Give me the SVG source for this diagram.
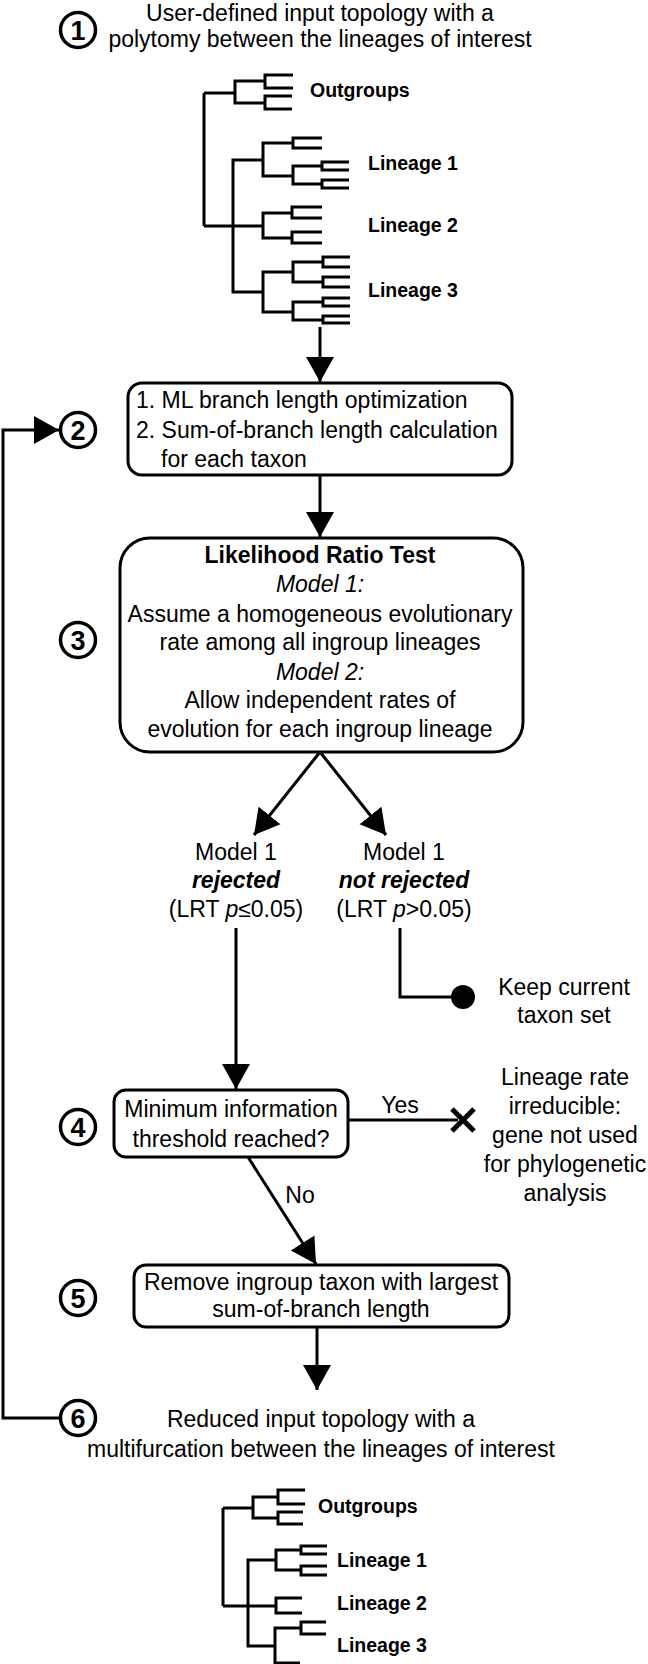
<svg xmlns="http://www.w3.org/2000/svg" width="648" height="1664" viewBox="0 0 648 1664">
<style>
text{font-family:"Liberation Sans",Arial,sans-serif;font-size:23px;fill:#000}
.c{text-anchor:middle}
.b{font-weight:bold}
.i{font-style:italic}
.lbl{font-weight:bold;font-size:19.5px}
.num{font-weight:bold;font-size:27px;text-anchor:middle}
.box{fill:#fff;stroke:#000;stroke-width:3}
.ring{fill:#fff;stroke:#000;stroke-width:3.5}
.ln{fill:none;stroke:#000;stroke-width:3}
.tree{fill:none;stroke:#000;stroke-width:3;stroke-linejoin:miter}
</style>
<defs>
<marker id="ah" markerUnits="userSpaceOnUse" markerWidth="26" markerHeight="30" refX="25" refY="14" orient="auto" viewBox="0 0 26 28">
<path d="M0 0L25 14L0 28z" fill="#000"/>
</marker>
</defs>
<rect width="648" height="1664" fill="#fff"/>

<g id="connectors">
<path class="ln" d="M320 327V382" marker-end="url(#ah)"/>
<path class="ln" d="M320 475V537" marker-end="url(#ah)"/>
<path class="ln" d="M320 752L254 835" marker-end="url(#ah)"/>
<path class="ln" d="M320 752L386 835" marker-end="url(#ah)"/>
<path class="ln" d="M236 928V1089" marker-end="url(#ah)"/>
<path class="ln" d="M400 928V997H455"/>
<path class="ln" d="M348 1120H458"/>
<path class="ln" d="M248 1157L316 1264" marker-end="url(#ah)"/>
<path class="ln" d="M317 1327V1390" marker-end="url(#ah)"/>
<path class="ln" d="M61 1418H3V430H59" marker-end="url(#ah)"/>
<text class="c" x="400" y="1113">Yes</text>
<text class="c" x="300" y="1203">No</text>
</g>

<g id="step1">
<circle class="ring" cx="78" cy="30" r="17.5"/>
<text class="num" x="78" y="40">1</text>
<text class="c" x="320" y="21">User-defined input topology with a</text>
<text class="c" x="320" y="47">polytomy between the lineages of interest</text>
</g>

<g id="tree1">
<path class="tree" d="M204 93V226M204 93H235M265 81H235V103H265M293 75H265V88H293M292 96H265V109H292"/>
<path class="tree" d="M204 226H263M263 160H233V292H263M293 143H263V176H293M322 138H293V148H322M322 166H293V184H322M349 162H322V170H349M349 180H322V188H349"/>
<path class="tree" d="M292 213H263V238H292M322 207H292V218H322M322 232H292V243H322"/>
<path class="tree" d="M293 272H263V312H293M323 262H293V282H323M350 257H323V267H350M350 277H323V287H350M323 302H293V320H323M350 298H323V306H350M350 316H323V323H350"/>
<text class="lbl" x="310" y="97">Outgroups</text>
<text class="lbl" x="368" y="170">Lineage 1</text>
<text class="lbl" x="368" y="232">Lineage 2</text>
<text class="lbl" x="368" y="297">Lineage 3</text>
</g>

<g id="step2">
<circle class="ring" cx="78" cy="430" r="17.5"/>
<text class="num" x="78" y="440">2</text>
<rect class="box" x="128" y="383" width="384" height="92" rx="14"/>
<text x="136" y="408">1. ML branch length optimization</text>
<text x="136" y="438">2. Sum-of-branch length calculation</text>
<text x="161" y="467">for each taxon</text>
</g>

<g id="step3">
<circle class="ring" cx="78" cy="640" r="17.5"/>
<text class="num" x="78" y="650">3</text>
<rect class="box" x="120" y="538" width="403" height="214" rx="30"/>
<text class="c b" x="320" y="563">Likelihood Ratio Test</text>
<text class="c i" x="320" y="592">Model 1:</text>
<text class="c" x="320" y="622">Assume a homogeneous evolutionary</text>
<text class="c" x="320" y="650">rate among all ingroup lineages</text>
<text class="c i" x="320" y="680">Model 2:</text>
<text class="c" x="320" y="708">Allow independent rates of</text>
<text class="c" x="320" y="737">evolution for each ingroup lineage</text>
</g>

<g id="rejected">
<text class="c" x="236" y="860">Model 1</text>
<text class="c b i" x="236" y="888">rejected</text>
<text class="c" x="236" y="917">(LRT <tspan class="i">p</tspan>≤0.05)</text>
</g>

<g id="not-rejected">
<text class="c" x="404" y="860">Model 1</text>
<text class="c b i" x="404" y="888">not rejected</text>
<text class="c" x="404" y="917">(LRT <tspan class="i">p</tspan>&gt;0.05)</text>
</g>

<g id="keep">
<circle cx="463" cy="997" r="12" fill="#000"/>
<text class="c" x="564" y="995">Keep current</text>
<text class="c" x="564" y="1023">taxon set</text>
</g>

<g id="step4">
<circle class="ring" cx="78" cy="1127" r="17.5"/>
<text class="num" x="78" y="1137">4</text>
<rect class="box" x="114" y="1090" width="234" height="67" rx="12"/>
<text class="c" x="231" y="1117">Minimum information</text>
<text class="c" x="231" y="1147">threshold reached?</text>
</g>

<g id="irreducible">
<path d="M452 1109L474 1131M474 1109L452 1131" stroke="#000" stroke-width="5" fill="none"/>
<text class="c" x="565" y="1085">Lineage rate</text>
<text class="c" x="565" y="1114">irreducible:</text>
<text class="c" x="565" y="1143">gene not used</text>
<text class="c" x="565" y="1172">for phylogenetic</text>
<text class="c" x="565" y="1201">analysis</text>
</g>

<g id="step5">
<circle class="ring" cx="78" cy="1298" r="17.5"/>
<text class="num" x="78" y="1308">5</text>
<rect class="box" x="134" y="1265" width="375" height="62" rx="12"/>
<text class="c" x="321" y="1290">Remove ingroup taxon with largest</text>
<text class="c" x="321" y="1317">sum-of-branch length</text>
</g>

<g id="step6">
<circle class="ring" cx="78" cy="1418" r="17.5"/>
<text class="num" x="78" y="1428">6</text>
<text class="c" x="321" y="1427">Reduced input topology with a</text>
<text class="c" x="321" y="1457">multifurcation between the lineages of interest</text>
</g>

<g id="tree2">
<path class="tree" d="M223 1508V1606M223 1508H253M278 1497H253V1518H278M305 1490H278V1504H305M303 1512H278V1524H303"/>
<path class="tree" d="M223 1606H276M276 1560H248V1646H275M301 1550H276V1570H301M327 1546H301V1554H327M327 1566H301V1575H327"/>
<path class="tree" d="M302 1598H276V1613H302"/>
<path class="tree" d="M301 1628H275V1663H300M326 1622H301V1634H326"/>
<text class="lbl" x="318" y="1513">Outgroups</text>
<text class="lbl" x="337" y="1567">Lineage 1</text>
<text class="lbl" x="337" y="1610">Lineage 2</text>
<text class="lbl" x="337" y="1652">Lineage 3</text>
</g>
</svg>
